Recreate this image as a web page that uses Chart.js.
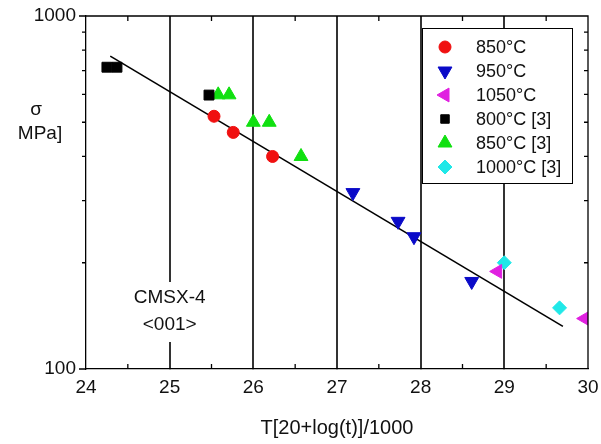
<!DOCTYPE html>
<html>
<head>
<meta charset="utf-8">
<script src="https://cdn.jsdelivr.net/npm/chart.js@4/dist/chart.umd.min.js"></script>
<style>
  html, body { margin: 0; padding: 0; background: #fff; }
  canvas { display: block; }
</style>
</head>
<body>
<canvas id="lmp" width="601" height="444"></canvas>
<script>
// data (x = LMP, y = stress MPa)
const x850 = [25.53, 25.76, 26.23];
const y850 = [520, 468, 400];
const x950 = [27.19, 27.73, 27.92, 28.61];
const y950 = [316, 262, 237, 177];
const x1050 = [28.92, 29.96];
const y1050 = [189, 139];
const x800ref = [24.25, 24.37, 25.47];
const y800ref = [716, 716, 597];
const x850ref = [25.58, 25.71, 26.0, 26.19, 26.57];
const y850ref = [598, 598, 500, 500, 400];
const x1000ref = [29.0, 29.66];
const y1000ref = [200, 149];
const xFit = [24.29, 29.70];
const yFit = [770, 132];

const xTicks = [24, 25, 26, 27, 28, 29, 30];
const yTicks = [100, 1000];
const yMinor = [200, 300, 400, 500, 600, 700, 800, 900];
const xMinor = [24.5, 25.5, 26.5, 27.5, 28.5, 29.5];

const FONT = '"Liberation Sans", Arial, sans-serif';

function pts(xs, ys) {
  return xs.map((x, i) => ({ x: x, y: ys[i] }));
}

function series(label, xs, ys, color, style, radius, rot) {
  return {
    label: label,
    data: pts(xs, ys),
    pointStyle: style,
    pointRadius: radius,
    pointRotation: rot || 0,
    pointBackgroundColor: color,
    pointBorderColor: color,
    pointBorderWidth: 1,
    showLine: false
  };
}

const datasets = [
  series('850°C', x850, y850, '#f01010', 'circle', 6),
  series('950°C', x950, y950, '#0a0ac8', 'triangle', 8, 180),
  series('1050°C', x1050, y1050, '#e020e0', 'triangle', 8, -90),
  series('800°C [3]', x800ref, y800ref, '#000000', 'rect', 7),
  series('850°C [3]', x850ref, y850ref, '#10e010', 'triangle', 8),
  series('1000°C [3]', x1000ref, y1000ref, '#20e8e8', 'rectRot', 7),
  {
    label: 'fit',
    data: pts(xFit, yFit),
    showLine: true,
    borderColor: '#000',
    borderWidth: 1.6,
    pointRadius: 0
  }
];

// ticks, frame, legend box, labels
const extras = {
  id: 'extras',
  beforeDatasetsDraw(chart) {
    const ctx = chart.ctx;
    const xs = chart.scales.x;
    const cx = xs.getPixelForValue(25);
    ctx.save();
    ctx.fillStyle = '#fff';
    ctx.fillRect(cx - 52, 282, 104, 60);
    ctx.fillStyle = '#111';
    ctx.font = '19px ' + FONT;
    ctx.textAlign = 'center';
    ctx.textBaseline = 'middle';
    ctx.fillText('CMSX-4', cx, 298);
    ctx.fillText('<001>', cx, 325);
    ctx.restore();
  },
  afterDatasetsDraw(chart) {
    const ctx = chart.ctx;
    const xs = chart.scales.x;
    const ys = chart.scales.y;
    const a = chart.chartArea;
    ctx.save();
    ctx.strokeStyle = '#000';
    ctx.lineWidth = 1.3;
    ctx.beginPath();
    // frame top/right
    ctx.moveTo(a.left, a.top); ctx.lineTo(a.right, a.top); ctx.lineTo(a.right, a.bottom);
    // x minor ticks, inward top and bottom
    xMinor.forEach(v => {
      const p = xs.getPixelForValue(v);
      ctx.moveTo(p, a.bottom); ctx.lineTo(p, a.bottom - 5);
      ctx.moveTo(p, a.top); ctx.lineTo(p, a.top + 5);
    });
    // y ticks, outward left, inward right
    yMinor.forEach(v => {
      const p = ys.getPixelForValue(v);
      ctx.moveTo(a.left, p); ctx.lineTo(a.left - 4, p);
      ctx.moveTo(a.right, p); ctx.lineTo(a.right - 4, p);
    });
    yTicks.forEach(v => {
      const p = ys.getPixelForValue(v);
      ctx.moveTo(a.left, p); ctx.lineTo(a.left - 7, p);
    });
    ctx.stroke();

    // legend
    const lx = a.right - 166, ly = a.top + 12, lw = 150, lh = 155;
    ctx.fillStyle = '#fff';
    ctx.fillRect(lx, ly, lw, lh);
    ctx.lineWidth = 1;
    ctx.strokeRect(lx + 0.5, ly + 0.5, lw, lh);
    ctx.font = '18px ' + FONT;
    ctx.textBaseline = 'middle';
    ctx.textAlign = 'left';
    let row = 0;
    chart.data.datasets.forEach(ds => {
      if (ds.label === 'fit') return;
      const yy = ly + 19 + row * 24;
      ctx.fillStyle = ds.pointBackgroundColor;
      ctx.strokeStyle = ds.pointBorderColor;
      ctx.lineWidth = 1;
      Chart.helpers.drawPoint(ctx, {
        pointStyle: ds.pointStyle,
        radius: ds.pointStyle === 'rect' ? 6 : ds.pointRadius,
        rotation: ds.pointRotation,
        borderWidth: 1
      }, lx + 23, yy);
      ctx.fillStyle = '#111';
      ctx.fillText(ds.label, lx + 54, yy + 1);
      row++;
    });

    // y axis label, upright
    ctx.fillStyle = '#111';
    ctx.textAlign = 'center';
    ctx.font = '19px ' + FONT;
    ctx.fillText('σ', 36, 110);
    ctx.fillText('MPa]', 40, 134);
    ctx.restore();
  }
};

new Chart(document.getElementById('lmp'), {
  type: 'scatter',
  data: { datasets: datasets },
  options: {
    responsive: false,
    animation: false,
    devicePixelRatio: 1,
    layout: { padding: { top: 16, right: 13, left: 0, bottom: 0 } },
    plugins: {
      legend: { display: false },
      tooltip: { enabled: false }
    },
    scales: {
      x: {
        type: 'linear',
        min: 24,
        max: 30,
        afterBuildTicks: s => { s.ticks = xTicks.map(v => ({ value: v })); },
        afterFit: s => { s.height = 75; s.paddingLeft = 0; s.paddingRight = 0; },
        ticks: {
          color: '#111',
          font: { family: FONT, size: 19 },
          padding: 7
        },
        grid: {
          drawTicks: true,
          tickLength: 0,
          lineWidth: 2,
          color: c => (c.tick && c.tick.value > 24 && c.tick.value < 30) ? '#333' : 'rgba(0,0,0,0)'
        },
        border: { display: true, color: '#000', width: 1.3 },
        title: {
          display: true,
          text: 'T[20+log(t)]/1000',
          color: '#111',
          font: { family: FONT, size: 20 },
          padding: { top: 8 }
        }
      },
      y: {
        type: 'logarithmic',
        min: 100,
        max: 1000,
        afterBuildTicks: s => { s.ticks = yTicks.map(v => ({ value: v })); },
        afterFit: s => { s.width = 86; s.paddingTop = 0; s.paddingBottom = 0; },
        ticks: {
          color: '#111',
          font: { family: FONT, size: 19 },
          padding: 10,
          callback: v => String(v)
        },
        grid: { display: false, drawTicks: false },
        border: { display: true, color: '#000', width: 1.3 }
      }
    }
  },
  plugins: [extras]
});
</script>
</body>
</html>
